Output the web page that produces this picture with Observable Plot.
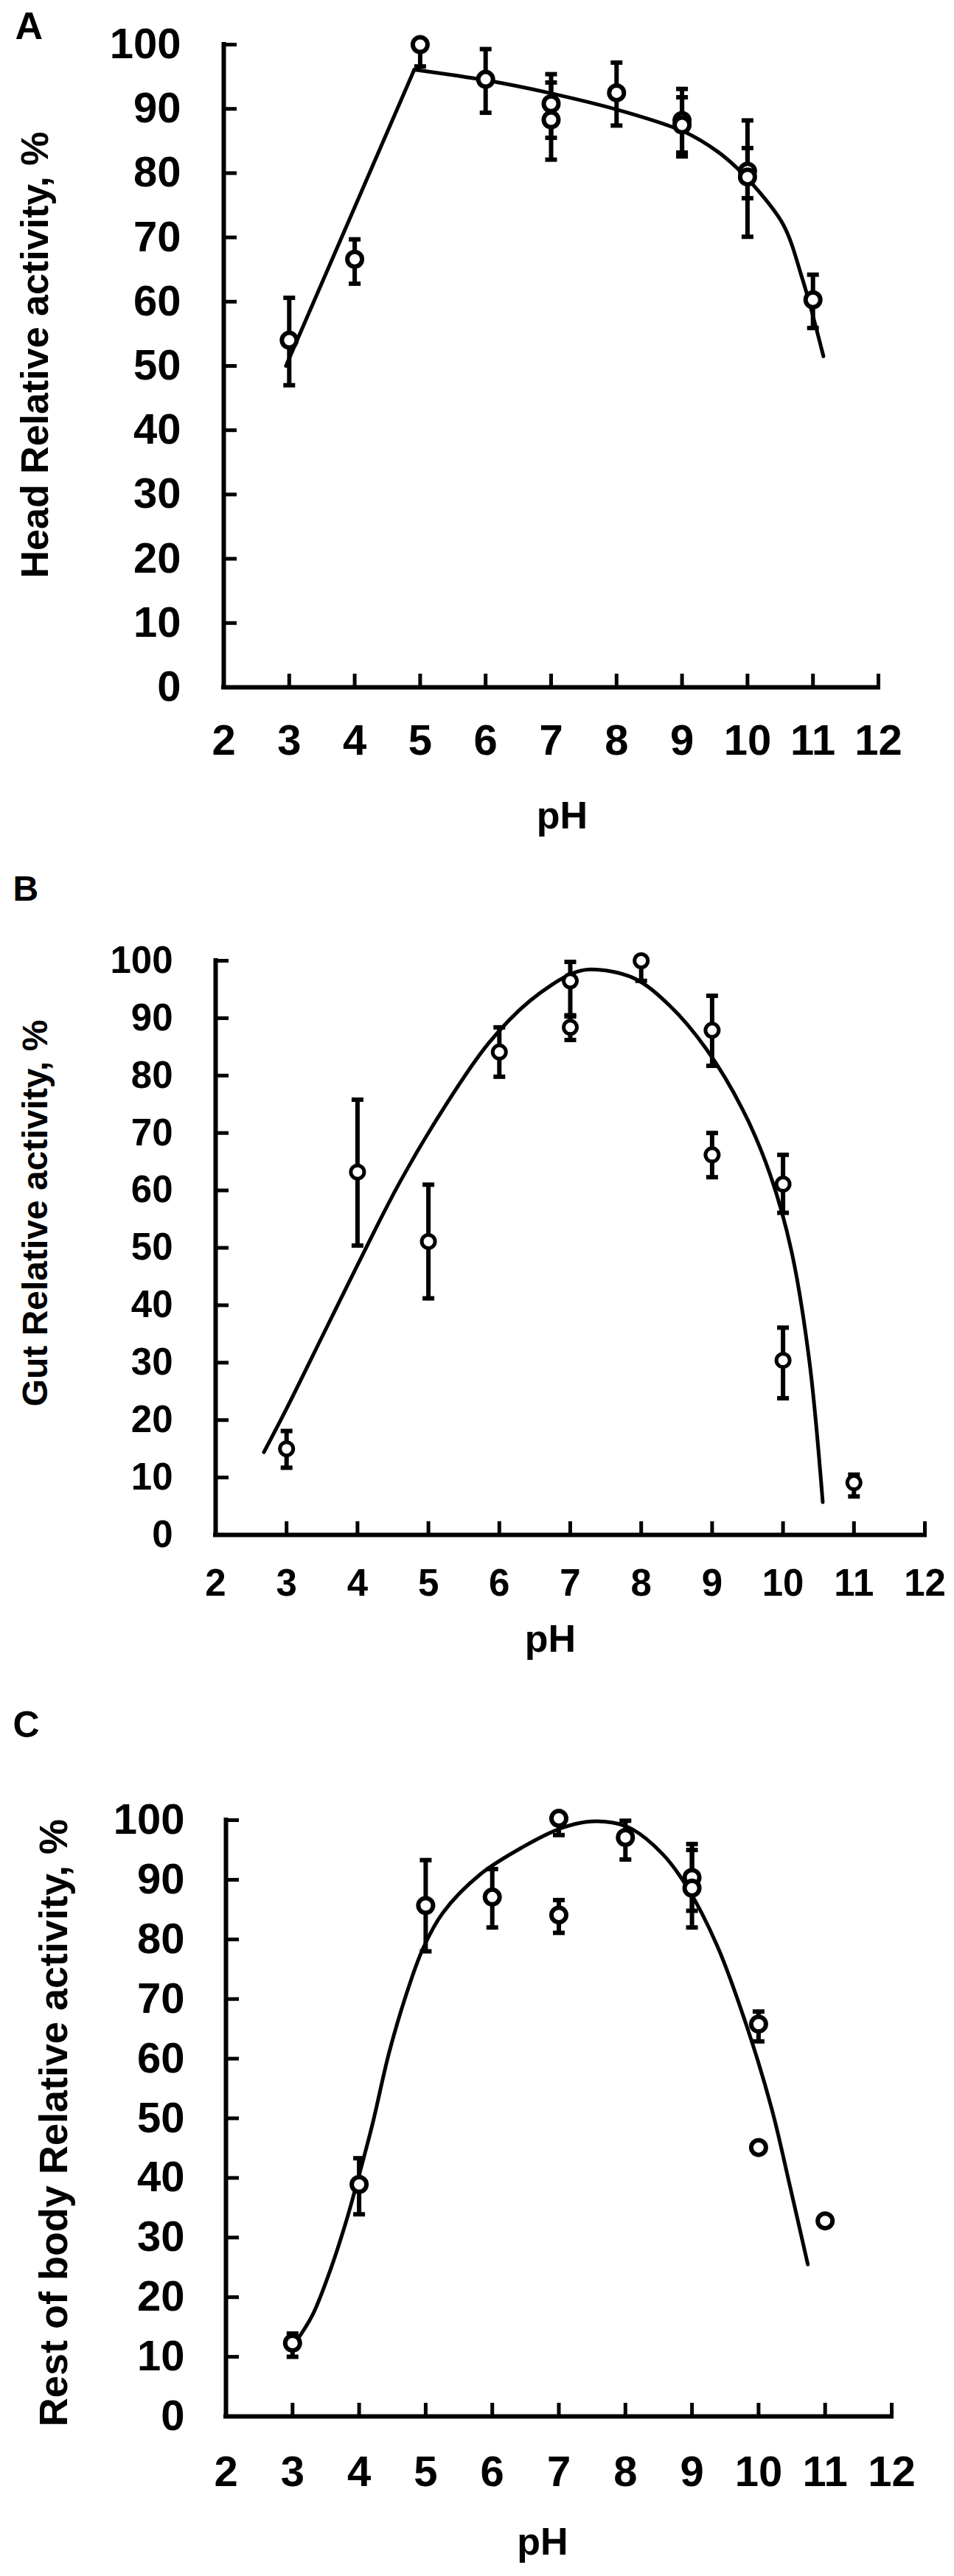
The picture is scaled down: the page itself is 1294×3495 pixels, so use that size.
<!DOCTYPE html>
<html>
<head>
<meta charset="utf-8">
<script src="https://cdn.jsdelivr.net/npm/d3@7"></script>
<script src="https://cdn.jsdelivr.net/npm/@observablehq/plot@0.6"></script>
<style>
  body { margin: 0; background: #fff; }
  #wrap { position: relative; width: 1294px; height: 3495px; background: #fff; }
  .panel { position: absolute; left: 0; }
  .panel svg { display: block; }
</style>
</head>
<body>
<div id="wrap"></div>
<script>
// ---------- shared axis ticks ----------
const xTicks = [2, 3, 4, 5, 6, 7, 8, 9, 10, 11, 12];
const yTicks = [0, 10, 20, 30, 40, 50, 60, 70, 80, 90, 100];

// ---------- Panel A : Head ----------
const headPH       = [3, 4, 5, 6, 7, 7, 8, 9, 9, 10, 10, 11];
const headActivity = [54.0, 66.6, 100.0, 94.6, 90.8, 88.3, 92.5, 88.2, 87.5, 80.3, 79.4, 60.3];
const headLow      = [47.0, 62.8, 96.6, 89.4, 85.5, 82.1, 87.4, 82.6, 83.2, 76.1, 70.1, 55.9];
const headHigh     = [60.6, 69.7, 100.0, 99.3, 95.4, 94.1, 97.2, 93.1, 91.8, 83.9, 88.2, 64.2];
const headRisePH       = [2.95, 4.91];
const headRiseActivity = [50.0, 96.1];
const headFallPH       = [4.91, 6.03, 6.96, 8.07, 9.04, 9.55, 9.83, 10.05, 10.54, 10.84, 11.16];
const headFallActivity = [96.1, 94.4, 92.5, 89.7, 86.4, 83.3, 80.9, 78.6, 72.1, 63.5, 51.5];

// ---------- Panel B : Gut ----------
const gutPH       = [3, 4, 5, 6, 7, 7, 8, 9, 9, 10, 10, 11];
const gutActivity = [15.0, 63.2, 51.1, 84.1, 96.5, 88.4, 100.0, 87.9, 66.2, 61.1, 30.4, 9.1];
const gutLow      = [11.7, 50.4, 41.2, 79.8, 90.3, 86.2, 96.5, 81.7, 62.3, 56.1, 23.8, 6.7];
const gutHigh     = [18.1, 75.8, 61.0, 88.4, 99.8, 90.5, 100.0, 93.9, 70.0, 66.2, 36.1, 10.5];
const gutFitPH       = [2.68, 3.0, 3.5, 4.0, 4.6, 5.2, 5.84, 6.43, 7.03, 7.29, 7.89, 8.40, 8.92, 9.43, 9.82, 10.12, 10.37, 10.56];
const gutFitActivity = [14.4, 22.0, 34.5, 47.0, 61.5, 74.0, 85.5, 93.0, 97.8, 98.5, 97.0, 92.2, 84.6, 74.1, 62.7, 49.4, 30.4, 5.7];

// ---------- Panel C : Rest of body ----------
const restPH       = [3, 4, 5, 6, 7, 7, 8, 9, 9, 10, 10, 11];
const restActivity = [12.3, 38.9, 85.7, 87.1, 100.3, 84.1, 97.1, 90.4, 88.6, 65.8, 45.1, 32.8];
const restLow      = [10.0, 33.9, 78.0, 82.0, 97.5, 81.1, 93.4, 84.8, 82.0, 62.9, null, null];
const restHigh     = [13.9, 43.3, 93.3, 91.8, 100.3, 86.6, 99.9, 96.0, 95.0, 67.9, null, null];
const restFitPH       = [3.05, 3.3, 3.55, 3.8, 4.0, 4.2, 4.45, 4.7, 4.96, 5.26, 5.83, 6.46, 7.0, 7.4, 7.8, 8.1, 8.56, 8.92, 9.38, 9.83, 10.2, 10.47, 10.74];
const restFitActivity = [12.5, 17.0, 24.0, 32.5, 40.5, 49.0, 61.0, 70.5, 78.5, 84.5, 91.0, 95.5, 98.5, 99.7, 99.6, 98.5, 94.3, 88.9, 78.9, 65.2, 51.5, 38.7, 25.5];

// ---------- helpers ----------
const rows = (ph, act, lo, hi) => ph.map((p, i) => ({ph: p, act: act[i], lo: lo[i], hi: hi[i]}));
const line = (ph, act) => ph.map((p, i) => ({ph: p, act: act[i]}));
const caps = (data) => data.filter(d => d.lo != null).flatMap(d => [{ph: d.ph, v: d.lo}, {ph: d.ph, v: d.hi}]);
const capSymbol = {
  draw(ctx, size) {
    const r = Math.sqrt(size / Math.PI);
    ctx.moveTo(-r, 0);
    ctx.lineTo(r, 0);
  }
};
const FONT = "'Liberation Sans', Arial, Helvetica, sans-serif";

function panel(cfg) {
  const data = cfg.data;
  const marks = [
    Plot.ruleY([0], {strokeWidth: 6, strokeLinecap: "square"}),
    Plot.ruleX([2], {strokeWidth: 6, strokeLinecap: "square"}),
    Plot.axisX({ticks: xTicks, tickSize: -18, tickPadding: cfg.xPad, tickFormat: d => String(d),
      fontSize: cfg.tickFont, fontWeight: "bold", strokeWidth: 5, label: null}),
    Plot.axisY({ticks: yTicks, tickSize: -18, tickPadding: cfg.yPad, tickFormat: d => String(d),
      fontSize: cfg.tickFont, fontWeight: "bold", strokeWidth: 5, label: null}),
    ...cfg.lines.map(l => Plot.line(l.data, {x: "ph", y: "act", curve: l.curve, stroke: "black", strokeWidth: 5})),
    Plot.ruleX(data.filter(d => d.lo != null), {x: "ph", y1: "lo", y2: "hi", stroke: "black", strokeWidth: 6}),
    Plot.dot(caps(data), {x: "ph", y: "v", symbol: capSymbol, r: 8, fill: "none", stroke: "black", strokeWidth: 6}),
    Plot.dot(data, {x: "ph", y: "act", r: cfg.r, fill: "white", stroke: "black", strokeWidth: cfg.sw}),
    Plot.text([cfg.title], {frameAnchor: "left", rotate: -90, dx: cfg.titleDx, dy: cfg.titleDy,
      lineAnchor: "bottom", textAnchor: "middle", fontSize: cfg.titleFont, fontWeight: "bold", fill: "black"}),
    Plot.text(["pH"], {frameAnchor: "bottom", dx: cfg.phDx, dy: cfg.phDy, lineAnchor: "bottom",
      textAnchor: "middle", fontSize: 52, fontWeight: "bold", fill: "black"}),
    Plot.text([cfg.letter], {frameAnchor: "top-left", dx: cfg.letterDx, dy: cfg.letterDy, lineAnchor: "bottom",
      textAnchor: "start", fontSize: cfg.letterFont, fontWeight: "bold", fill: "black"})
  ];
  const svg = Plot.plot({
    width: 1294,
    height: cfg.height,
    marginLeft: cfg.mL, marginRight: cfg.mR, marginTop: cfg.mT, marginBottom: cfg.mB,
    x: {domain: [2, 12], axis: null},
    y: {domain: [0, 100], axis: null},
    style: {fontFamily: FONT, color: "black", background: "white", overflow: "visible"},
    marks
  });
  const div = document.createElement("div");
  div.className = "panel";
  div.style.top = cfg.top + "px";
  div.appendChild(svg);
  document.getElementById("wrap").appendChild(div);
}

panel({
  top: 0, height: 1170, mL: 303, mR: 103, mT: 60, mB: 238,
  data: rows(headPH, headActivity, headLow, headHigh),
  lines: [
    {data: line(headRisePH, headRiseActivity), curve: "linear"},
    {data: line(headFallPH, headFallActivity), curve: "catmull-rom"}
  ],
  tickFont: 58, xPad: 68, yPad: 76, r: 10, sw: 6,
  title: "Head Relative activity, %", titleFont: 52, titleDx: -239, titleDy: -15,
  phDx: 15, phDy: 191,
  letter: "A", letterFont: 52, letterDx: -283, letterDy: -8
});

panel({
  top: 1170, height: 1150, mL: 292, mR: 40, mT: 133, mB: 238,
  data: rows(gutPH, gutActivity, gutLow, gutHigh),
  lines: [{data: line(gutFitPH, gutFitActivity), curve: "catmull-rom"}],
  tickFont: 51, xPad: 64, yPad: 76, r: 9, sw: 5,
  title: "Gut Relative activity, %", titleFont: 48, titleDx: -229, titleDy: -47,
  phDx: -27, phDy: 158,
  letter: "B", letterFont: 48, letterDx: -275, letterDy: -82
});

panel({
  top: 2320, height: 1175, mL: 306, mR: 85, mT: 149, mB: 217,
  data: rows(restPH, restActivity, restLow, restHigh),
  lines: [{data: line(restFitPH, restFitActivity), curve: "catmull-rom"}],
  tickFont: 58, xPad: 71, yPad: 74, r: 10, sw: 6,
  title: "Rest of body Relative activity, %", titleFont: 54, titleDx: -216, titleDy: 6,
  phDx: -22, phDy: 187,
  letter: "C", letterFont: 50, letterDx: -289, letterDy: -113
});
</script>
</body>
</html>
